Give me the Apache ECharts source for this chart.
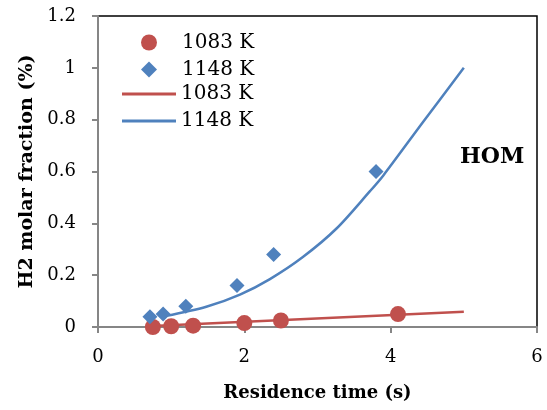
<!DOCTYPE html>
<html>
<head>
<meta charset="utf-8">
<script src="https://cdn.jsdelivr.net/npm/echarts@6/dist/echarts.min.js"></script>
<style>html,body{margin:0;padding:0;background:#fff}#c{width:547px;height:410px}</style>
</head>
<body>
<div id="c"></div>
<script>
// Data
const pts1083 = [[0.75,0.0],[1.0,0.003],[1.3,0.005],[2.0,0.015],[2.5,0.025],[4.1,0.05]];
const pts1148 = [[0.71,0.04],[0.89,0.05],[1.2,0.08],[1.9,0.16],[2.4,0.28],[3.8,0.6]];
const fit1083 = [[0.75,0.004],[5.0,0.059]];
const fit1148 = [[0.92,0.042],[1.48,0.078],[1.94,0.125],[2.35,0.185],[2.80,0.27],[3.26,0.38],[3.72,0.525],[3.9,0.585],[4.44,0.79],[5.0,1.0]];
const xTicks = [0,2,4,6];
const yTicks = [0,0.2,0.4,0.6,0.8,1,1.2];
const seriesNames = ['1083 K','1148 K','1083 K fit','1148 K fit'];

const RED = '#C0504D', BLUE = '#4F81BD', AXIS = '#868686';
const FONT = 'DejaVu Serif';
const legendText = {fontFamily: FONT, fontSize: 20, color: '#000', lineHeight: 16};
const chart = echarts.init(document.getElementById('c'), null, {renderer:'canvas'});
chart.setOption({
  animation: false,
  grid: {left: 98, right: 10, top: 16, bottom: 83, show: true, borderColor: '#000', borderWidth: 1.5, backgroundColor: 'transparent'},
  legend: [{
    orient: 'vertical', left: 136, top: 27.5, itemWidth: 16, itemHeight: 16, itemGap: 7,
    data: [
      {name: seriesNames[0], icon: 'circle'},
      {name: seriesNames[1], icon: 'diamond'}
    ],
    textStyle: Object.assign({}, legendText, {padding: [0,0,0,20]})
  }, {
    orient: 'vertical', left: 117, top: 79, itemWidth: 54, itemHeight: 3, itemGap: 7,
    data: [
      {name: seriesNames[2], icon: 'rect'},
      {name: seriesNames[3], icon: 'rect'}
    ],
    formatter: n => n.replace(' fit',''),
    textStyle: legendText
  }],
  xAxis: {
    type: 'value', min: xTicks[0], max: xTicks[xTicks.length-1], interval: 2,
    name: 'Residence time (s)', nameLocation: 'middle', nameGap: 57,
    nameTextStyle: {fontFamily: FONT, fontWeight: 'bold', fontSize: 18, color: '#000'},
    axisLine: {lineStyle: {color: AXIS, width: 2}},
    axisTick: {show: true, length: 6, lineStyle: {color: AXIS, width: 2}},
    axisLabel: {fontFamily: FONT, fontSize: 18, color: '#000', margin: 21},
    splitLine: {show: false}
  },
  yAxis: {
    type: 'value', min: yTicks[0], max: yTicks[yTicks.length-1], interval: 0.2,
    name: 'H2 molar fraction (%)', nameLocation: 'middle', nameGap: 55, nameRotate: 90,
    nameTextStyle: {fontFamily: FONT, fontWeight: 'bold', fontSize: 19, color: '#000'},
    axisLine: {lineStyle: {color: AXIS, width: 2}},
    axisTick: {show: true, length: 6, lineStyle: {color: AXIS, width: 2}},
    axisLabel: {fontFamily: FONT, fontSize: 18, color: '#000', margin: 22},
    splitLine: {show: false}
  },
  graphic: [{type: 'text', left: 460, top: 146, style: {text: 'HOM', font: 'bold 22px "DejaVu Serif"', fill: '#000'}}],
  series: [
    {name: seriesNames[2], type: 'line', data: fit1083, symbol: 'none', lineStyle: {color: RED, width: 2.5}, itemStyle: {color: RED}, z: 2},
    {name: seriesNames[3], type: 'line', data: fit1148, symbol: 'none', smooth: 0.3, lineStyle: {color: BLUE, width: 2.5}, itemStyle: {color: BLUE}, z: 2},
    {name: seriesNames[0], type: 'scatter', data: pts1083, symbol: 'circle', symbolSize: 16, itemStyle: {color: RED, opacity: 1}, z: 3},
    {name: seriesNames[1], type: 'scatter', data: pts1148, symbol: 'diamond', symbolSize: 15, itemStyle: {color: BLUE, opacity: 1}, z: 3}
  ]
});
</script>
</body>
</html>
